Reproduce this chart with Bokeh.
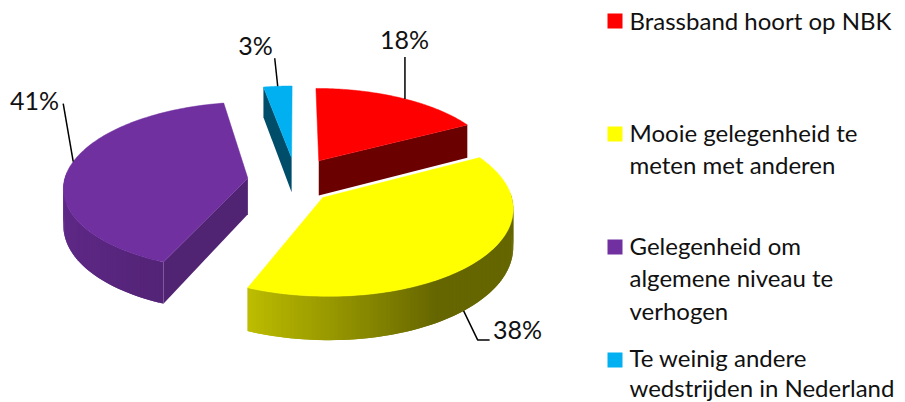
import numpy as np
from bokeh.plotting import figure
from bokeh.embed import file_html
from bokeh.resources import INLINE
from bokeh.core.properties import value

# Data
values = [18, 38, 41, 3]
pct_labels = ["18%", "38%", "41%", "3%"]
legend_lines = [
    ["Brassband hoort op NBK"],
    ["Mooie gelegenheid te", "meten met anderen"],
    ["Gelegenheid om", "algemene niveau te", "verhogen"],
    ["Te weinig andere", "wedstrijden in Nederland"],
]
colors = ["#ff0000", "#ffff00", "#7030a0", "#00b0f0"]

# Projection of the tilted pie
CX, CY = 293.0, 179.0
RX, RY, TILT, PERSP, EX_U, EX_V, DEPTH, LIFT = 182.0, 188.0, 0.44, 0.0008, 43.0, 52.0, 36.0, 5.0
NUDGE = {0: (3, 0), 1: (-3, 2), 2: (-3, 1), 3: (2, 0)}


def project(theta, r, mid, drop=0.0, i=0):
    u = r * RX * np.sin(theta) + EX_U * np.sin(mid)
    v = r * RY * np.cos(theta) + EX_V * np.cos(mid)
    w = 1 + PERSP * v
    return (CX + u / w + NUDGE[i][0],
            CY - TILT * v / w + drop / w - LIFT * r + NUDGE[i][1])


def mix(c, b):
    rgb = [int(c[i:i + 2], 16) for i in (1, 3, 5)]
    return "#%02x%02x%02x" % tuple(int(round(x * b)) for x in rgb)


def shade(theta):
    return float(np.interp(np.sin(theta), [-1, -0.368, 0.5, 1], [0.85, 0.74, 0.4, 0.4]))


fracs = np.array(values, dtype=float) / sum(values)
ends = np.cumsum(fracs) * 2 * np.pi
starts = ends - fracs * 2 * np.pi

p = figure(width=905, height=402, x_range=(0, 905), y_range=(402, 0),
           output_backend="svg", toolbar_location=None, min_border=0,
           outline_line_color=None, background_fill_color="white")
p.axis.visible = False
p.grid.visible = False

RADIAL_SHADE = {0: 0.42, 2: 0.72, 3: 0.44}
anchor = {}
for i in [3, 0, 2, 1]:
    s, e = starts[i], ends[i]
    mid = (s + e) / 2
    c = colors[i]
    xs, ys, fs = [], [], []
    ts = np.linspace(s, e, 120)
    # outer rim, front half only; every strip overlaps the next one
    n = len(ts)
    for k in range(n - 1):
        a, b = ts[k], ts[min(k + 2, n - 1)]
        if np.cos((ts[k] + ts[k + 1]) / 2) < 0.0:
            xa, ya = project(a, 1, mid, 0, i)
            xb, yb = project(b, 1, mid, 0, i)
            xc, yc = project(b, 1, mid, DEPTH, i)
            xd, yd = project(a, 1, mid, DEPTH, i)
            xs.append([xa, xb, xc, xd])
            ys.append([ya, yb, yc, yd])
            fs.append(mix(c, shade((ts[k] + ts[k + 1]) / 2)))
    if xs:
        p.patches(xs, ys, fill_color=fs, line_color=None)
    # radial walls that face the viewer
    xs, ys, fs = [], [], []
    for th, vis in ((s, np.sin(s) < -1e-6), (e, np.sin(e) > 1e-6)):
        if vis:
            x0, y0 = project(th, 0, mid, 0, i)
            x1, y1 = project(th, 1, mid, 0, i)
            x2, y2 = project(th, 1, mid, DEPTH, i)
            x3, y3 = project(th, 0, mid, DEPTH, i)
            xs.append([x0, x1, x2, x3])
            ys.append([y0, y1, y2, y3])
            fs.append(mix(c, RADIAL_SHADE.get(i, 0.5)))
    if xs:
        p.patches(xs, ys, fill_color=fs, line_color=None)
    # top face
    tx, ty = project(ts, 1, mid, 0, i)
    ax, ay = project(0.0, 0.0, mid, 0, i)
    p.patch(np.r_[ax, tx], np.r_[ay, ty], fill_color=c, line_color=c, line_width=0.5)
    anchor[i] = mid

# leader lines: start on the rim, layout offsets to the label
lead_offsets = {0: [(0, -42)], 1: [(14, 29), (26, 29)], 2: [(-10, -58)], 3: [(-3, -28)]}
lead_drop = {0: 0, 1: DEPTH, 2: 0, 3: 0}
lead_theta = {0: 0.53, 1: 0.55, 2: 0.52, 3: 0.5}
for i, offs in lead_offsets.items():
    mid = anchor[i]
    th = starts[i] + lead_theta[i] * (ends[i] - starts[i])
    x0, y0 = project(th, 1, mid, lead_drop[i], i)
    lx = [x0] + [x0 + o[0] for o in offs]
    ly = [y0] + [y0 + o[1] for o in offs]
    p.line(lx, ly, line_color="black", line_width=1.5)

label_pos = [(404, 38), (517, 328), (34, 99), (255, 44)]
p.text([q[0] for q in label_pos], [q[1] for q in label_pos], text=pct_labels,
       text_font=value("Lato"), text_font_size="25px", text_color="#111111",
       text_align="center", text_baseline="middle")

# legend
line_ys = [[20], [132, 164], [245, 277, 310], [357, 387]]
sq_y_pos = [20.5, 133.5, 246.5, 359.5]
sq_x, sq_y, tx_x, tx_y, tx_t = [], [], [], [], []
for lines, yy, sy in zip(legend_lines, line_ys, sq_y_pos):
    sq_x.append(614.5)
    sq_y.append(sy)
    for t, y in zip(lines, yy):
        tx_x.append(629)
        tx_y.append(y)
        tx_t.append(t)
p.rect(sq_x, sq_y, width=15, height=15, fill_color=colors, line_color=None)
p.text(tx_x, tx_y, text=tx_t, text_font=value("Lato"), text_font_size="24px",
       text_color="#111111", text_align="left", text_baseline="middle")

open("out.html", "w").write(file_html(p, INLINE))
